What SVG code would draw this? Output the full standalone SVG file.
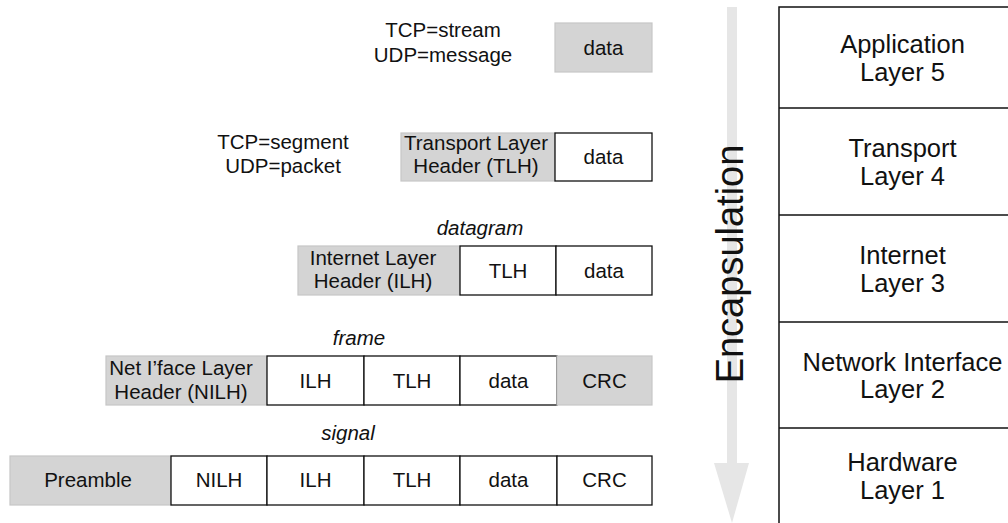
<svg xmlns="http://www.w3.org/2000/svg" width="1008" height="523" viewBox="0 0 1008 523">
<style>
text{font-family:"Liberation Sans",Arial,Helvetica,sans-serif;fill:#111}
.t{font-size:20.5px;text-anchor:middle}
.i{font-size:20.5px;text-anchor:middle;font-style:italic}
.r{font-size:25.5px;text-anchor:middle}
.g{fill:#d4d4d4;stroke:#c6c6c6;stroke-width:1.2}
.w{fill:#fff;stroke:#111;stroke-width:1.3}
</style>
<rect width="1008" height="523" fill="#fff"/>
<g id="arrow">
<polygon points="727,7 737,7 737,463 749,463 732,523 714,463 727,463" fill="#e6e6e6"/>
<text transform="translate(743,264) rotate(-90)" style="font-size:38px;text-anchor:middle">Encapsulation</text>
</g>
<g id="stack">
<rect x="779" y="7" width="250" height="530" fill="#fff" stroke="#111" stroke-width="1.5"/>
<line x1="779" y1="108" x2="1008" y2="108" stroke="#111" stroke-width="1.5"/>
<line x1="779" y1="215" x2="1008" y2="215" stroke="#111" stroke-width="1.5"/>
<line x1="779" y1="322" x2="1008" y2="322" stroke="#111" stroke-width="1.5"/>
<line x1="779" y1="428" x2="1008" y2="428" stroke="#111" stroke-width="1.5"/>
<text class="r" x="902.5" y="53">Application</text><text class="r" x="902.5" y="80.5">Layer 5</text>
<text class="r" x="902.5" y="157">Transport</text><text class="r" x="902.5" y="184.5">Layer 4</text>
<text class="r" x="902.5" y="264">Internet</text><text class="r" x="902.5" y="291.5">Layer 3</text>
<text class="r" x="902.5" y="370.5">Network Interface</text><text class="r" x="902.5" y="398">Layer 2</text>
<text class="r" x="902.5" y="471">Hardware</text><text class="r" x="902.5" y="498.5">Layer 1</text>
</g>
<g id="row1">
<text class="t" x="443" y="37">TCP=stream</text><text class="t" x="443" y="62">UDP=message</text>
<rect class="g" x="555" y="23" width="97" height="49"/>
<text class="t" x="603.5" y="54.5">data</text>
</g>
<g id="row2">
<text class="t" x="283" y="149">TCP=segment</text><text class="t" x="283" y="173">UDP=packet</text>
<rect class="g" x="401" y="133" width="154" height="48"/>
<text class="t" x="476" y="150">Transport Layer</text><text class="t" x="476" y="173">Header (TLH)</text>
<rect class="w" x="555" y="133" width="97" height="48"/>
<text class="t" x="603.5" y="164">data</text>
</g>
<g id="row3">
<text class="i" x="480" y="235">datagram</text>
<rect class="g" x="298" y="246" width="162" height="49"/>
<text class="t" x="373" y="265">Internet Layer</text><text class="t" x="373" y="288">Header (ILH)</text>
<rect class="w" x="460" y="246" width="96" height="49"/>
<text class="t" x="508" y="277.5">TLH</text>
<rect class="w" x="556" y="246" width="96" height="49"/>
<text class="t" x="604" y="277.5">data</text>
</g>
<g id="row4">
<text class="i" x="359" y="345">frame</text>
<rect class="g" x="106" y="356" width="161" height="49"/>
<text class="t" x="181" y="375">Net I’face Layer</text><text class="t" x="181" y="399">Header (NILH)</text>
<rect class="w" x="267" y="356" width="97" height="49"/>
<text class="t" x="315.5" y="388">ILH</text>
<rect class="w" x="364" y="356" width="96" height="49"/>
<text class="t" x="412" y="388">TLH</text>
<rect class="w" x="460" y="356" width="97" height="49"/>
<text class="t" x="508.5" y="388">data</text>
<rect class="g" x="557" y="356" width="95" height="49"/>
<text class="t" x="604.5" y="388">CRC</text>
</g>
<g id="row5">
<text class="i" x="348" y="440">signal</text>
<rect class="g" x="10" y="456" width="161" height="49"/>
<text class="t" x="88" y="487">Preamble</text>
<rect class="w" x="171" y="456" width="96" height="49"/>
<text class="t" x="219" y="487">NILH</text>
<rect class="w" x="267" y="456" width="97" height="49"/>
<text class="t" x="315.5" y="487">ILH</text>
<rect class="w" x="364" y="456" width="96" height="49"/>
<text class="t" x="412" y="487">TLH</text>
<rect class="w" x="460" y="456" width="97" height="49"/>
<text class="t" x="508.5" y="487">data</text>
<rect class="w" x="557" y="456" width="95" height="49"/>
<text class="t" x="604.5" y="487">CRC</text>
</g>
</svg>
